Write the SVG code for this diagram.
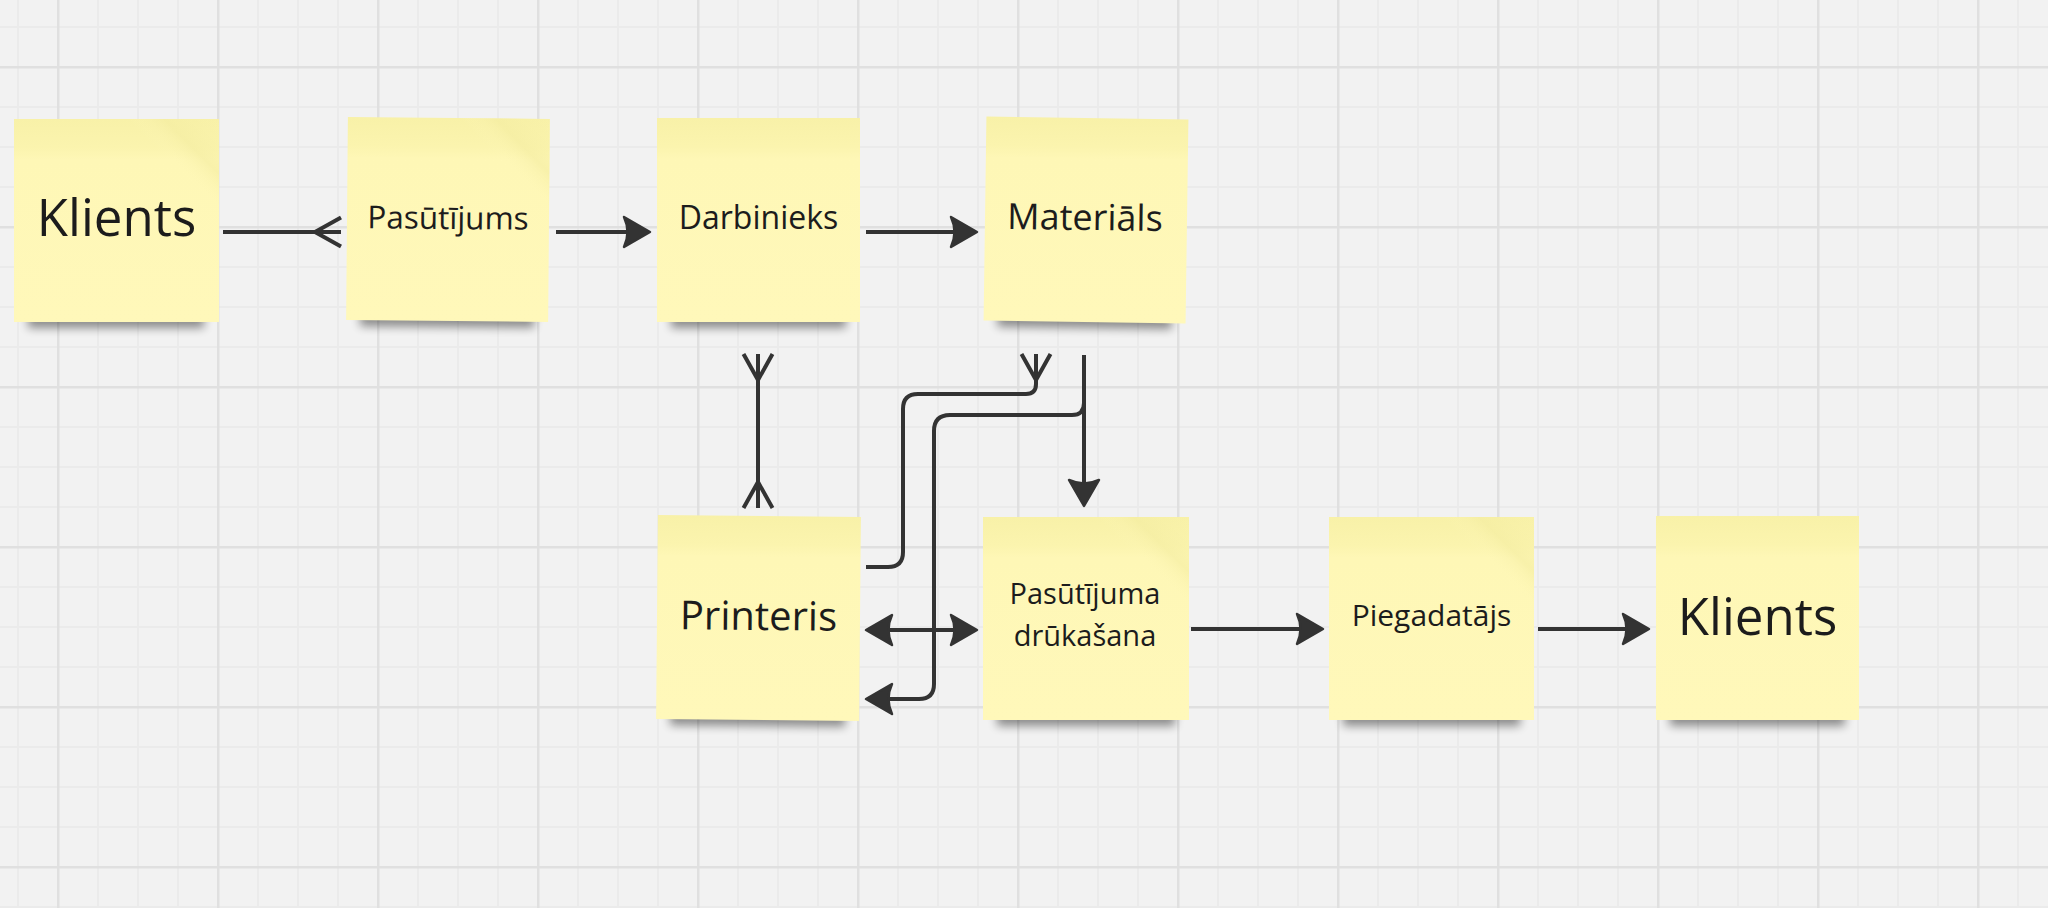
<svg xmlns="http://www.w3.org/2000/svg" width="2048" height="908" viewBox="0 0 2048 908">
  <defs>
    <pattern id="gridMinor" patternUnits="userSpaceOnUse" x="17" y="26" width="40" height="40">
      <rect x="0" y="0" width="40" height="2" fill="#ebebeb"/>
      <rect x="0" y="0" width="2" height="40" fill="#ebebeb"/>
    </pattern>
    <pattern id="gridMajor" patternUnits="userSpaceOnUse" x="57" y="66" width="160" height="160">
      <rect x="0" y="0" width="160" height="2.5" fill="#e0e0e0"/>
      <rect x="0" y="0" width="2.5" height="160" fill="#e0e0e0"/>
    </pattern>
    <linearGradient id="noteFill" x1="0" y1="0" x2="0" y2="1">
      <stop offset="0" stop-color="#f8f1a8"/>
      <stop offset="0.14" stop-color="#fbf4ae"/>
      <stop offset="0.2" stop-color="#fef7b6"/>
      <stop offset="1" stop-color="#fff8ba"/>
    </linearGradient>
    <linearGradient id="fold" x1="1" y1="0" x2="0.55" y2="0.45">
      <stop offset="0" stop-color="#f6efa4" stop-opacity="0.0"/>
      <stop offset="0.3" stop-color="#f3eca0" stop-opacity="0.55"/>
      <stop offset="0.5" stop-color="#fff8ba" stop-opacity="0"/>
    </linearGradient>
    <filter id="shadowBlur" x="-20%" y="-50%" width="140%" height="200%">
      <feGaussianBlur stdDeviation="5"/>
    </filter>
    <marker id="arrow" viewBox="0 0 30 34" markerWidth="30" markerHeight="34" refX="15" refY="17" orient="auto-start-reverse" markerUnits="userSpaceOnUse">
      <path d="M2,2 L28,17 L2,32 Q9,17 2,2 Z" fill="#333333" stroke="#333333" stroke-width="2.5" stroke-linejoin="round"/>
    </marker>
    <marker id="many" viewBox="0 0 30 34" markerWidth="30" markerHeight="34" refX="28" refY="17" orient="auto-start-reverse" markerUnits="userSpaceOnUse">
      <path d="M2,17 L28,2.5 M2,17 L28,31.5" fill="none" stroke="#333333" stroke-width="4"/>
    </marker>
  </defs>
  <style>
    .shadow { fill: #000000; opacity: 0.42; filter: url(#shadowBlur); }
    .note { fill: url(#noteFill); }
    .foldc { fill: url(#fold); }
    .label { font-family: "Open Sans", "Noto Sans", "Liberation Sans", sans-serif; fill: #1c1c1c; text-anchor: middle; }
    .conn { fill: none; stroke: #333333; stroke-width: 4; }
  </style>

  <rect x="0" y="0" width="2048" height="908" fill="#f2f2f2"/>
  <rect x="0" y="0" width="2048" height="908" fill="url(#gridMinor)"/>
  <rect x="0" y="0" width="2048" height="908" fill="url(#gridMajor)"/>

  <g id="node-klients-1">
    <rect class="shadow" x="28" y="290" width="176" height="38"/>
    <rect class="note" x="14" y="119" width="205" height="203"/>
    <rect class="foldc" x="14" y="119" width="205" height="203"/>
    <text class="label" x="116.5" y="236" font-size="51">Klients</text>
  </g>

  <g id="node-pasutijums" transform="rotate(0.5 448 220)">
    <rect class="shadow" x="361" y="289" width="174" height="38"/>
    <rect class="note" x="347" y="118" width="202" height="203"/>
    <rect class="foldc" x="347" y="118" width="202" height="203"/>
    <text class="label" x="448" y="229" font-size="31.5">Pasūtījums</text>
  </g>

  <g id="node-darbinieks">
    <rect class="shadow" x="671" y="290" width="175" height="38"/>
    <rect class="note" x="657" y="118" width="203" height="204"/>
    <text class="label" x="758.5" y="229" font-size="32">Darbinieks</text>
  </g>

  <g id="node-materials" transform="rotate(0.8 1085 220)">
    <rect class="shadow" x="999" y="290" width="174" height="38"/>
    <rect class="note" x="985" y="118" width="202" height="204"/>
    <text class="label" x="1085" y="230" font-size="36">Materiāls</text>
  </g>

  <g id="node-printeris" transform="rotate(0.5 758 618)">
    <rect class="shadow" x="671" y="688" width="175" height="38"/>
    <rect class="note" x="657" y="516" width="203" height="204"/>
    <text class="label" x="758.5" y="630" font-size="40">Printeris</text>
  </g>

  <g id="node-pasutijuma-drukasana">
    <rect class="shadow" x="997" y="688" width="178" height="38"/>
    <rect class="note" x="983" y="517" width="206" height="203"/>
    <rect class="foldc" x="983" y="517" width="206" height="203"/>
    <text class="label" x="1085" y="604" font-size="29">Pasūtījuma</text>
    <text class="label" x="1085" y="646" font-size="29">drūkašana</text>
  </g>

  <g id="node-piegadatajs">
    <rect class="shadow" x="1343" y="688" width="177" height="38"/>
    <rect class="note" x="1329" y="517" width="205" height="203"/>
    <rect class="foldc" x="1329" y="517" width="205" height="203"/>
    <text class="label" x="1431.5" y="626" font-size="30">Piegadatājs</text>
  </g>

  <g id="node-klients-2">
    <rect class="shadow" x="1670" y="688" width="175" height="38"/>
    <rect class="note" x="1656" y="516" width="203" height="204"/>
    <text class="label" x="1757.5" y="635" font-size="51">Klients</text>
  </g>

  <g id="connectors">
    <path class="conn" d="M223,232 H341" marker-end="url(#many)"/>
    <path class="conn" d="M556,232 H637" marker-end="url(#arrow)"/>
    <path class="conn" d="M866,232 H964" marker-end="url(#arrow)"/>
    <path class="conn" d="M758,508 V354" marker-start="url(#many)" marker-end="url(#many)"/>
    <path class="conn" d="M866,567 H888 Q903,567 903,552 V409 Q903,394 918,394 H1026 Q1036,394 1036,384 V354" marker-end="url(#many)"/>
    <path class="conn" d="M1084,355 V403 Q1084,415 1072,415 H950 Q934,415 934,431 V684 Q934,699 919,699 H879" marker-end="url(#arrow)"/>
    <path class="conn" d="M1084,355 V493" marker-end="url(#arrow)"/>
    <path class="conn" d="M879,630 H964" marker-start="url(#arrow)" marker-end="url(#arrow)"/>
    <path class="conn" d="M1191,629 H1310" marker-end="url(#arrow)"/>
    <path class="conn" d="M1538,629 H1636" marker-end="url(#arrow)"/>
  </g>
</svg>
